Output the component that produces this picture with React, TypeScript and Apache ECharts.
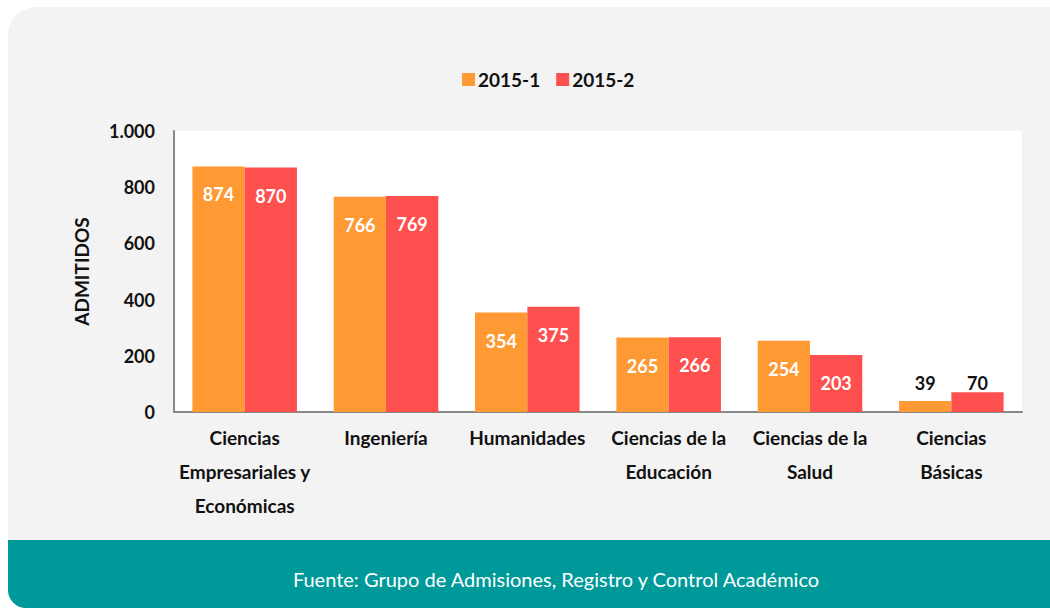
import React, { useEffect, useRef } from "react";
import * as echarts from "echarts";

const categories = [
  "Ciencias\nEmpresariales y\nEconómicas",
  "Ingeniería",
  "Humanidades",
  "Ciencias de la\nEducación",
  "Ciencias de la\nSalud",
  "Ciencias\nBásicas",
];
const s2015_1 = [874, 766, 354, 265, 254, 39];
const s2015_2 = [870, 769, 375, 266, 203, 70];
const seriesNames = ["2015-1", "2015-2"];
const colors = ["#FF9933", "#FF5050"];
const yTicks = { min: 0, max: 1000, interval: 200 };
const footerText = "Fuente: Grupo de Admisiones, Registro y Control Académico";

const FONT = "Lato";

function makeData(vals: number[]) {
  return vals.map((v) =>
    v < 100
      ? {
          value: v,
          label: { position: "insideBottom", color: "#111", distance: 20 },
        }
      : { value: v }
  );
}

export default function App() {
  const ref = useRef<HTMLDivElement>(null);
  useEffect(() => {
    if (!ref.current) return;
    const chart = echarts.init(ref.current, null, { renderer: "svg" });
    const labelCfg = {
      show: true,
      position: "insideTop",
      distance: 19,
      color: "#fff",
      fontFamily: FONT,
      fontWeight: "bold",
      fontSize: 18,
    };
    chart.setOption({
      animation: false,
      backgroundColor: "#fff",
      graphic: [
        {
          type: "rect",
          z: -10,
          shape: { x: 8, y: 7, width: 1100, height: 560, r: [28, 0, 0, 0] },
          style: { fill: "#F3F3F3" },
        },
        {
          type: "rect",
          z: -9,
          shape: { x: 8, y: 540, width: 1100, height: 68, r: [0, 0, 0, 18] },
          style: { fill: "#009999" },
        },
        {
          type: "text",
          x: 556,
          y: 579,
          style: {
            text: footerText,
            fill: "#fff",
            font: `20px ${FONT}`,
            align: "center",
            verticalAlign: "middle",
          },
        },
      ],
      color: colors,
      legend: {
        data: seriesNames,
        left: 457,
        top: 65,
        itemWidth: 13,
        itemHeight: 13,
        itemGap: 16,
        icon: "rect",
        textStyle: {
          fontFamily: FONT,
          fontWeight: "bold",
          fontSize: 19,
          color: "#111",
          padding: [0, 0, 0, -2],
        },
      },
      grid: {
        left: 174,
        right: 28,
        top: 131,
        bottom: 199,
        show: true,
        backgroundColor: "#fff",
        borderWidth: 0,
      },
      xAxis: {
        type: "category",
        data: categories,
        axisLine: { lineStyle: { color: "#888", width: 2 } },
        axisTick: { show: false },
        axisLabel: {
          interval: 0,
          margin: 8,
          fontFamily: FONT,
          fontWeight: "bold",
          fontSize: 19,
          lineHeight: 34,
          color: "#111",
        },
      },
      yAxis: {
        type: "value",
        min: yTicks.min,
        max: yTicks.max,
        interval: yTicks.interval,
        name: "ADMITIDOS",
        nameLocation: "middle",
        nameGap: 83,
        nameTextStyle: {
          fontFamily: FONT,
          fontWeight: "bold",
          fontSize: 19,
          color: "#111",
        },
        axisLine: { show: true, lineStyle: { color: "#888", width: 2 } },
        axisTick: { show: false },
        splitLine: { show: false },
        axisLabel: {
          margin: 19,
          fontFamily: FONT,
          fontWeight: "bold",
          fontSize: 18,
          color: "#111",
          formatter: (v: number) =>
            String(v).replace(/\B(?=(\d{3})+(?!\d))/g, "."),
        },
      },
      series: [
        {
          name: seriesNames[0],
          type: "bar",
          data: makeData(s2015_1),
          barGap: "0%",
          barCategoryGap: "26%",
          label: labelCfg,
        },
        {
          name: seriesNames[1],
          type: "bar",
          data: makeData(s2015_2),
          barGap: "0%",
          barCategoryGap: "26%",
          label: labelCfg,
        },
      ],
    });
    return () => chart.dispose();
  }, []);
  return (
    <div
      ref={ref}
      style={{ position: "absolute", left: 0, top: 0, width: 1050, height: 611 }}
    />
  );
}
